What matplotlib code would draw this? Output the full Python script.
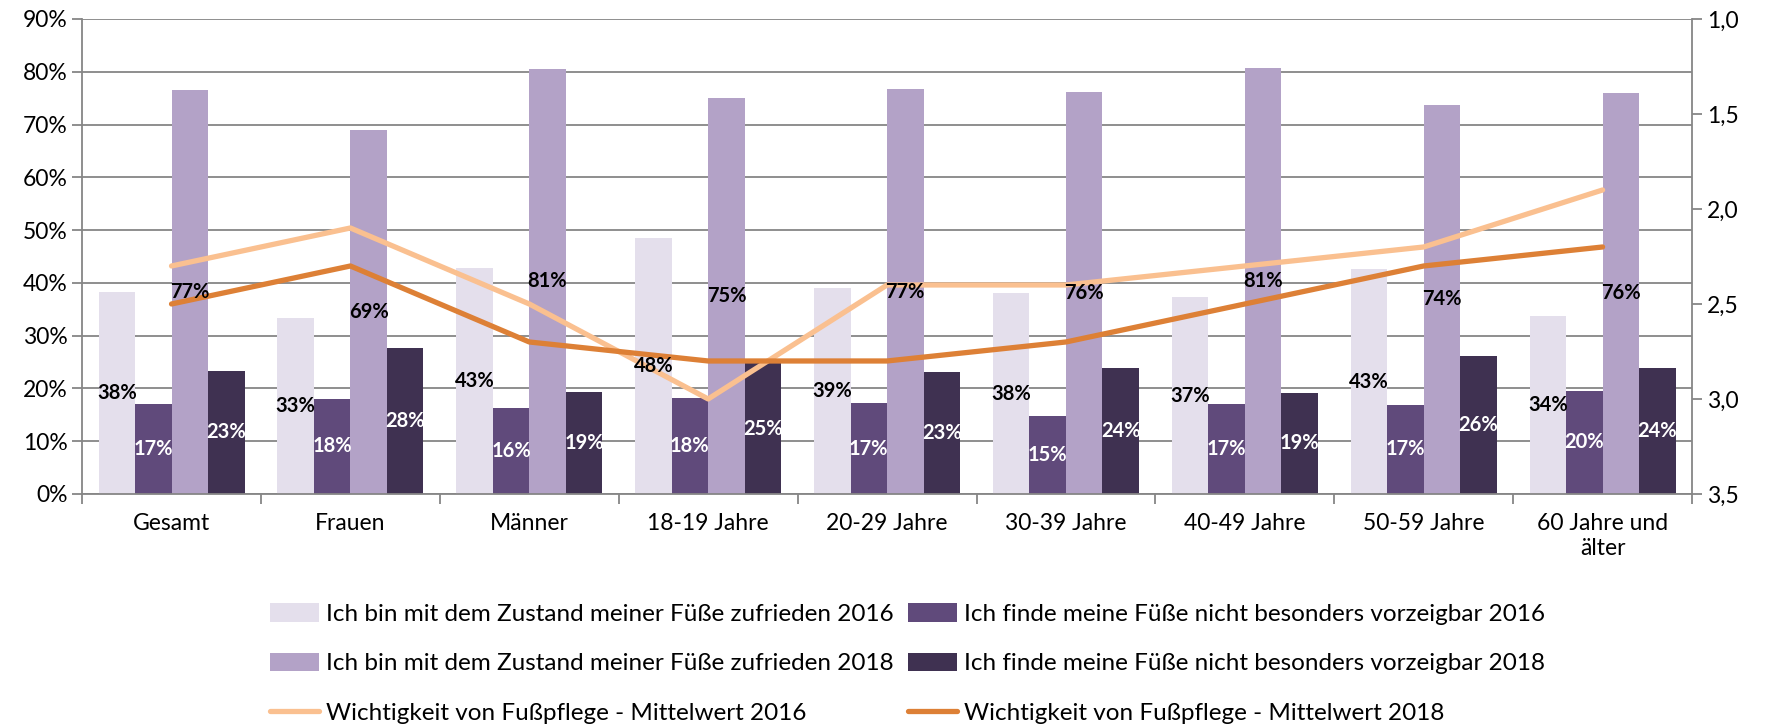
import numpy as np
import matplotlib.pyplot as plt
from matplotlib.ticker import FixedLocator, FuncFormatter

plt.rcParams['font.family'] = ['Lato', 'DejaVu Sans']

categories = ['Gesamt', 'Frauen', 'Männer', '18-19 Jahre', '20-29 Jahre',
              '30-39 Jahre', '40-49 Jahre', '50-59 Jahre', '60 Jahre und\nälter']

zufrieden_2016 = [38.3, 33.3, 42.9, 48.5, 39.0, 38.0, 37.3, 42.6, 33.7]
nicht_vorz_2016 = [17.0, 18.0, 16.3, 18.2, 17.2, 14.7, 17.1, 16.9, 19.6]
zufrieden_2018 = [76.6, 69.0, 80.6, 75.0, 76.7, 76.2, 80.8, 73.7, 76.0]
nicht_vorz_2018 = [23.3, 27.6, 19.4, 24.8, 23.2, 23.8, 19.2, 26.2, 23.9]

wichtig_2016 = [2.3, 2.1, 2.5, 3.0, 2.4, 2.4, 2.3, 2.2, 1.9]
wichtig_2018 = [2.5, 2.3, 2.7, 2.8, 2.8, 2.7, 2.5, 2.3, 2.2]

bar_series = [
    (zufrieden_2016, '#E4DFEC', 'black', 'Ich bin mit dem Zustand meiner Füße zufrieden 2016'),
    (nicht_vorz_2016, '#604A7B', 'white', 'Ich finde meine Füße nicht besonders vorzeigbar 2016'),
    (zufrieden_2018, '#B3A2C7', 'black', 'Ich bin mit dem Zustand meiner Füße zufrieden 2018'),
    (nicht_vorz_2018, '#3F3151', 'white', 'Ich finde meine Füße nicht besonders vorzeigbar 2018'),
]

fig = plt.figure(figsize=(17.69, 7.24), dpi=100)
ax = fig.add_axes([0.0464, 0.3177, 0.9101, 0.6561])
ax2 = ax.twinx()

x = np.arange(len(categories))
w = 0.204
handles = {}
for i, (vals, col, tcol, lab) in enumerate(bar_series):
    pos = x + (i - 1.5) * w
    handles[i] = ax.bar(pos, vals, width=w, color=col, label=lab, zorder=2)
    # labels go on the twin axes so they sit above the lines
    for px, v in zip(pos, vals):
        ax2.text(px, v / 2, f'{round(v):.0f}%', transform=ax.transData,
                 ha='center', va='center', fontsize=14.5, fontweight='bold',
                 color=tcol, zorder=5)

ax.set_xlim(-0.5, len(categories) - 0.5)
ax.set_ylim(0, 90)
ax.set_yticks(np.arange(0, 91, 10))
ax.yaxis.set_major_formatter(FuncFormatter(lambda v, p: f'{v:.0f}%'))
ax.grid(axis='y', color='#868686', linewidth=1.3, zorder=0)
ax.set_axisbelow(True)

ax.set_xticks(x)
ax.set_xticklabels(categories, fontsize=16.5)
ax.xaxis.set_minor_locator(FixedLocator(np.arange(-0.5, len(categories), 1)))
ax.tick_params(axis='x', which='major', length=0, pad=14)
ax.tick_params(axis='x', which='minor', length=7, width=1.3, color='#868686')
ax.tick_params(axis='y', length=7, width=1.3, color='#868686', labelsize=16.5)

l1, = ax2.plot(x, wichtig_2016, color='#FAC090', linewidth=3.8,
               solid_capstyle='round', label='Wichtigkeit von Fußpflege - Mittelwert 2016', zorder=3)
l2, = ax2.plot(x, wichtig_2018, color='#DD8036', linewidth=3.8,
               solid_capstyle='round', label='Wichtigkeit von Fußpflege - Mittelwert 2018', zorder=3)
ax2.set_ylim(3.5, 1.0)
ax2.set_yticks(np.arange(1.0, 3.51, 0.5))
ax2.yaxis.set_major_formatter(FuncFormatter(lambda v, p: f'{v:.1f}'.replace('.', ',')))
ax2.tick_params(axis='y', length=7, width=1.3, color='#868686', labelsize=16.5)

for a in (ax, ax2):
    for s in a.spines.values():
        s.set_visible(False)
    a.spines['left'].set_visible(a is ax)
    a.spines['right'].set_visible(a is ax2)
    a.spines['bottom'].set_visible(a is ax)
    for s in ('left', 'right', 'bottom'):
        a.spines[s].set_color('#868686')
        a.spines[s].set_linewidth(1.3)

leg_handles = [handles[0], handles[2], l1, handles[1], handles[3], l2]
fig.legend(leg_handles, [h.get_label() for h in leg_handles], ncol=2,
           loc='lower center', bbox_to_anchor=(0.513, -0.03), frameon=False,
           fontsize=17.5, handlelength=2.0, handleheight=0.8, columnspacing=0.6,
           labelspacing=1.14, handletextpad=0.3)

plt.savefig('out.png', dpi=100)
